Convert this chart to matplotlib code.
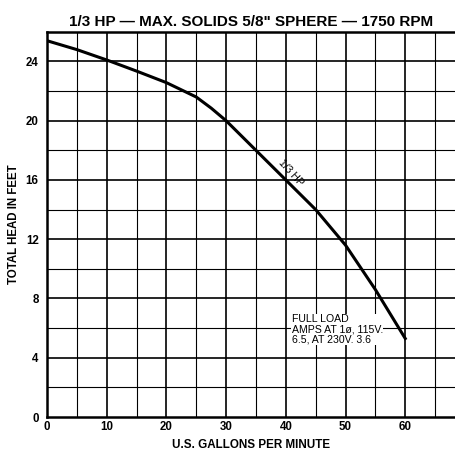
import matplotlib
matplotlib.use("Agg")
import matplotlib.pyplot as plt
import numpy as np

# pump curve, 1/3 HP
gpm = [0, 5, 10, 15, 20, 25, 27.5, 30, 35, 40, 45, 50, 55, 60]
head = [25.4, 24.8, 24.1, 23.35, 22.57, 21.6, 20.85, 20.0, 18.0, 16.0, 14.0,
        11.6, 8.6, 5.3]

x_ticks = [0, 10, 20, 30, 40, 50, 60]
y_ticks = [0, 4, 8, 12, 16, 20, 24]

plt.rcParams['font.family'] = ['Liberation Sans', 'DejaVu Sans']

fig = plt.figure(figsize=(4.56, 4.5), dpi=100)
ax = fig.add_axes([0.103, 0.0733, 0.897, 0.856])

ax.set_xlim(0, 68.5)
ax.set_ylim(0, 26)

# grid: heavier lines every 10 gpm / 4 ft, lighter every 5 gpm / 2 ft
for gx in np.arange(5, 70, 5):
    lw = 1.2 if gx % 10 == 0 else 0.8
    ax.axvline(gx, color='black', lw=lw, zorder=1)
for gy in np.arange(2, 26, 2):
    lw = 1.2 if gy % 4 == 0 else 0.8
    ax.axhline(gy, color='black', lw=lw, zorder=1)

ax.plot(gpm, head, color='black', lw=2.2, zorder=3, solid_joinstyle='round')

ax.text(40.8, 16.5, '1/3 HP', rotation=-48, fontsize=7.5, ha='center', va='center',
        zorder=4)
ax.text(41.0, 6.95, 'FULL LOAD\nAMPS AT 1ø, 115V.\n6.5, AT 230V. 3.6', fontsize=7.6,
        ha='left', va='top', linespacing=1.05, zorder=4,
        bbox=dict(facecolor='white', edgecolor='none', pad=0.3))

for side in ['left', 'bottom', 'top']:
    ax.spines[side].set_linewidth(1.8)
ax.spines['right'].set_visible(False)

ax.set_xticks(x_ticks)
ax.set_yticks(y_ticks)
ax.tick_params(length=0, labelsize=8.3)
ax.tick_params(axis='x', pad=3)
ax.tick_params(axis='y', pad=6)
for lab in ax.get_xticklabels() + ax.get_yticklabels():
    lab.set_fontweight('bold')

ax.set_xlabel('U.S. GALLONS PER MINUTE', fontsize=8.4, fontweight='bold')
ax.xaxis.set_label_coords(0.5, -0.056)
ax.set_ylabel('TOTAL HEAD IN FEET', fontsize=8.3, fontweight='bold')
ax.yaxis.set_label_coords(-0.067, 0.5)
ax.set_title('1/3 HP — MAX. SOLIDS 5/8" SPHERE — 1750 RPM', fontsize=11,
             fontweight='bold', pad=4)

fig.savefig('out.png', dpi=100)
